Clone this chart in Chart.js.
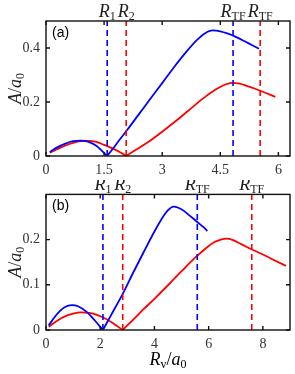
<!DOCTYPE html>
<html>
<head>
<meta charset="utf-8">
<script src="https://cdn.jsdelivr.net/npm/chart.js@4.4.1/dist/chart.umd.min.js"></script>
<style>
  body { margin: 0; background: #fff; }
  canvas { position: absolute; left: 0; }
  #graficoA { top: 0; }
  #graficoB { top: 180px; }
</style>
</head>
<body>
<canvas id="graficoA" width="295" height="180"></canvas>
<canvas id="graficoB" width="295" height="194"></canvas>
<script>
// Painel (a)
const azulAx = [0.1, 0.3, 0.5, 0.7, 0.9, 1.1, 1.3, 1.45, 1.58, 1.7, 1.9, 2.1, 2.4, 2.7, 3.0, 3.3, 3.6, 3.9, 4.1, 4.3, 4.5, 4.7, 4.9, 5.1, 5.3, 5.5];
const azulAy = [0.015, 0.033, 0.046, 0.055, 0.057, 0.052, 0.038, 0.018, 0, 0.022, 0.06, 0.097, 0.155, 0.213, 0.27, 0.328, 0.382, 0.43, 0.454, 0.465, 0.462, 0.453, 0.441, 0.427, 0.412, 0.397];
const vermAx = [0.1, 0.3, 0.5, 0.7, 0.9, 1.1, 1.3, 1.5, 1.7, 1.9, 2.07, 2.3, 2.6, 3.0, 3.4, 3.8, 4.1, 4.4, 4.6, 4.8, 5.0, 5.2, 5.4, 5.6, 5.92];
const vermAy = [0.012, 0.026, 0.039, 0.049, 0.055, 0.056, 0.052, 0.041, 0.029, 0.015, 0, 0.021, 0.048, 0.09, 0.135, 0.183, 0.218, 0.248, 0.263, 0.271, 0.268, 0.259, 0.249, 0.238, 0.219];
const marcasA = [1.58, 2.07, 4.83, 5.53];
const rotulosA = ['R_1', 'R_2', 'R_TF', 'R_TF'];
const xTicksA = [0, 1.5, 3, 4.5, 6];
const xLabelsA = ['0', '1.5', '3', '4.5', '6'];
const yTicksA = [0, 0.2, 0.4];
const yLabelsA = ['0', '0.2', '0.4'];

// Painel (b)
const azulBx = [0.1, 0.3, 0.5, 0.7, 0.95, 1.2, 1.5, 1.8, 2.1, 2.4, 2.83, 3.2, 3.6, 4.0, 4.3, 4.5, 4.7, 4.9, 5.1, 5.3, 5.58, 5.8, 5.95];
const azulBy = [0.01, 0.027, 0.041, 0.051, 0.055, 0.052, 0.04, 0.021, 0, 0.033, 0.08, 0.125, 0.172, 0.218, 0.249, 0.265, 0.273, 0.27, 0.263, 0.253, 0.239, 0.228, 0.219];
const vermBx = [0.1, 0.4, 0.7, 1.0, 1.3, 1.6, 1.9, 2.2, 2.5, 2.83, 3.2, 3.6, 4.0, 4.5, 5.0, 5.5, 5.9, 6.2, 6.45, 6.65, 6.9, 7.2, 7.6, 8.0, 8.4, 8.85];
const vermBy = [0.007, 0.02, 0.03, 0.036, 0.039, 0.038, 0.033, 0.025, 0.014, 0, 0.022, 0.046, 0.069, 0.099, 0.13, 0.16, 0.181, 0.194, 0.2, 0.202, 0.199, 0.19, 0.178, 0.167, 0.155, 0.142];
const marcasB = [2.1, 2.83, 5.58, 7.59];
const rotulosB = ['R_1', 'R_2', 'R_TF', 'R_TF'];
const xTicksB = [0, 2, 4, 6, 8];
const xLabelsB = ['0', '2', '4', '6', '8'];
const yTicksB = [0, 0.1, 0.2];
const yLabelsB = ['0', '0.1', '0.2'];

const AZUL = '#0000ff';
const VERM = '#ff0000';
const coresMarcas = [AZUL, VERM, AZUL, VERM];
const serif = '"Liberation Serif", "DejaVu Serif", serif';

// Fonte de cada pedaço do texto.
function fonte(tipo) {
    if (tipo === 'i') return 'italic 18px ' + serif;
    if (tipo === 's') return '12px ' + serif;
    return '18px ' + serif;
}
// Escreve texto com itálico e subscrito, centrado em x.
function textoRico(ctx, partes, x, y) {
    let largura = 0;
    partes.forEach(p => { ctx.font = fonte(p[1]); largura += ctx.measureText(p[0]).width; });
    let cx = x - largura / 2;
    ctx.textAlign = 'left';
    ctx.textBaseline = 'alphabetic';
    partes.forEach(p => {
        ctx.font = fonte(p[1]);
        ctx.fillText(p[0], cx, y + (p[1] === 's' ? 3 : 0));
        cx += ctx.measureText(p[0]).width;
    });
}

// Moldura, ticks internos e rótulos.
const moldura = {
    id: 'moldura',
    afterDraw(chart) {
        const p = chart.options.plugins.moldura;
        const { ctx, chartArea: a, scales } = chart;
        ctx.save();
        ctx.strokeStyle = '#111';
        ctx.lineWidth = 1.4;
        ctx.strokeRect(a.left, a.top, a.right - a.left, a.bottom - a.top);
        ctx.beginPath();
        p.xTicks.forEach(v => {
            const px = scales.x.getPixelForValue(v);
            ctx.moveTo(px, a.bottom); ctx.lineTo(px, a.bottom - 4);
            ctx.moveTo(px, a.top); ctx.lineTo(px, a.top + 4);
        });
        p.yTicks.forEach(v => {
            const py = scales.y.getPixelForValue(v);
            ctx.moveTo(a.left, py); ctx.lineTo(a.left + 4, py);
            ctx.moveTo(a.right, py); ctx.lineTo(a.right - 4, py);
        });
        ctx.stroke();
        ctx.fillStyle = '#222';
        p.marcas.forEach((m, i) => {
            const partes = p.rotulos[i].split('_');
            textoRico(ctx, [[partes[0], 'i'], [partes[1], 's']], scales.x.getPixelForValue(m), a.top - 4);
        });
        ctx.font = '14px "Liberation Sans", Arial, sans-serif';
        ctx.fillStyle = '#000';
        ctx.fillText(p.letra, a.left + 6, a.top + 16);
        // rótulo do eixo y
        ctx.save();
        ctx.translate(21, (a.top + a.bottom) / 2);
        ctx.rotate(-Math.PI / 2);
        ctx.fillStyle = '#222';
        textoRico(ctx, [['A', 'i'], ['/', 'n'], ['a', 'i'], ['0', 's']], 0, 0);
        ctx.restore();
        if (p.tituloX) {
            textoRico(ctx, [['R', 'i'], ['v', 's'], ['/', 'n'], ['a', 'i'], ['0', 's']], (a.left + a.right) / 2, a.bottom + 35);
        }
        ctx.restore();
    }
};

// Curva dividida no zero para manter o bico.
function curva(xs, ys, cor) {
    const pts = xs.map((x, k) => ({ x: x, y: ys[k] }));
    const i = ys.indexOf(0);
    const base = { borderColor: cor, borderWidth: 1.8, pointRadius: 0, cubicInterpolationMode: 'monotone', fill: false };
    return [
        Object.assign({ data: pts.slice(0, i + 1) }, base),
        Object.assign({ data: pts.slice(i) }, base)
    ];
}

function criarPainel(canvasId, p) {
    const ctx = document.getElementById(canvasId).getContext('2d');
    let datasets = [];
    p.marcas.forEach((m, i) => {
        datasets.push({
            data: [{ x: m, y: 0 }, { x: m, y: p.yMax }],
            borderColor: coresMarcas[i], borderWidth: 1.6, borderDash: [6, 4], pointRadius: 0
        });
    });
    datasets = datasets.concat(curva(p.azulX, p.azulY, AZUL), curva(p.vermX, p.vermY, VERM));
    new Chart(ctx, {
        type: 'line',
        data: { datasets: datasets },
        plugins: [moldura],
        options: {
            responsive: false,
            animation: false,
            layout: { padding: { top: p.topo, right: 5, left: 0, bottom: 0 } },
            plugins: {
                legend: { display: false },
                tooltip: { enabled: false },
                moldura: p
            },
            scales: {
                x: {
                    type: 'linear', min: 0, max: p.xMax,
                    grid: { display: false, drawTicks: false },
                    border: { display: false },
                    ticks: {
                        padding: 6, maxRotation: 0, color: '#333',
                        font: { family: serif, size: 14 },
                        callback: (v) => p.xLabels[p.xTicks.indexOf(v)]
                    },
                    afterBuildTicks: (s) => { s.ticks = p.xTicks.map(v => ({ value: v })); },
                    afterFit: (s) => { s.height = p.altX; }
                },
                y: {
                    min: 0, max: p.yMax,
                    grid: { display: false, drawTicks: false },
                    border: { display: false },
                    ticks: {
                        padding: 6, color: '#333',
                        font: { family: serif, size: 14 },
                        callback: (v) => p.yLabels[p.yTicks.indexOf(v)]
                    },
                    afterBuildTicks: (s) => { s.ticks = p.yTicks.map(v => ({ value: v })); },
                    afterFit: (s) => { s.width = 46; }
                }
            }
        }
    });
}

window.onload = function() {
    criarPainel('graficoA', {
        azulX: azulAx, azulY: azulAy, vermX: vermAx, vermY: vermAy,
        marcas: marcasA, rotulos: rotulosA, letra: '(a)',
        xTicks: xTicksA, xLabels: xLabelsA, yTicks: yTicksA, yLabels: yLabelsA,
        xMax: 6.3, yMax: 0.5, topo: 21, altX: 24, tituloX: false
    });
    criarPainel('graficoB', {
        azulX: azulBx, azulY: azulBy, vermX: vermBx, vermY: vermBy,
        marcas: marcasB, rotulos: rotulosB, letra: '(b)',
        xTicks: xTicksB, xLabels: xLabelsB, yTicks: yTicksB, yLabels: yLabelsB,
        xMax: 9, yMax: 0.3, topo: 14, altX: 44, tituloX: true
    });
};
</script>
</body>
</html>
